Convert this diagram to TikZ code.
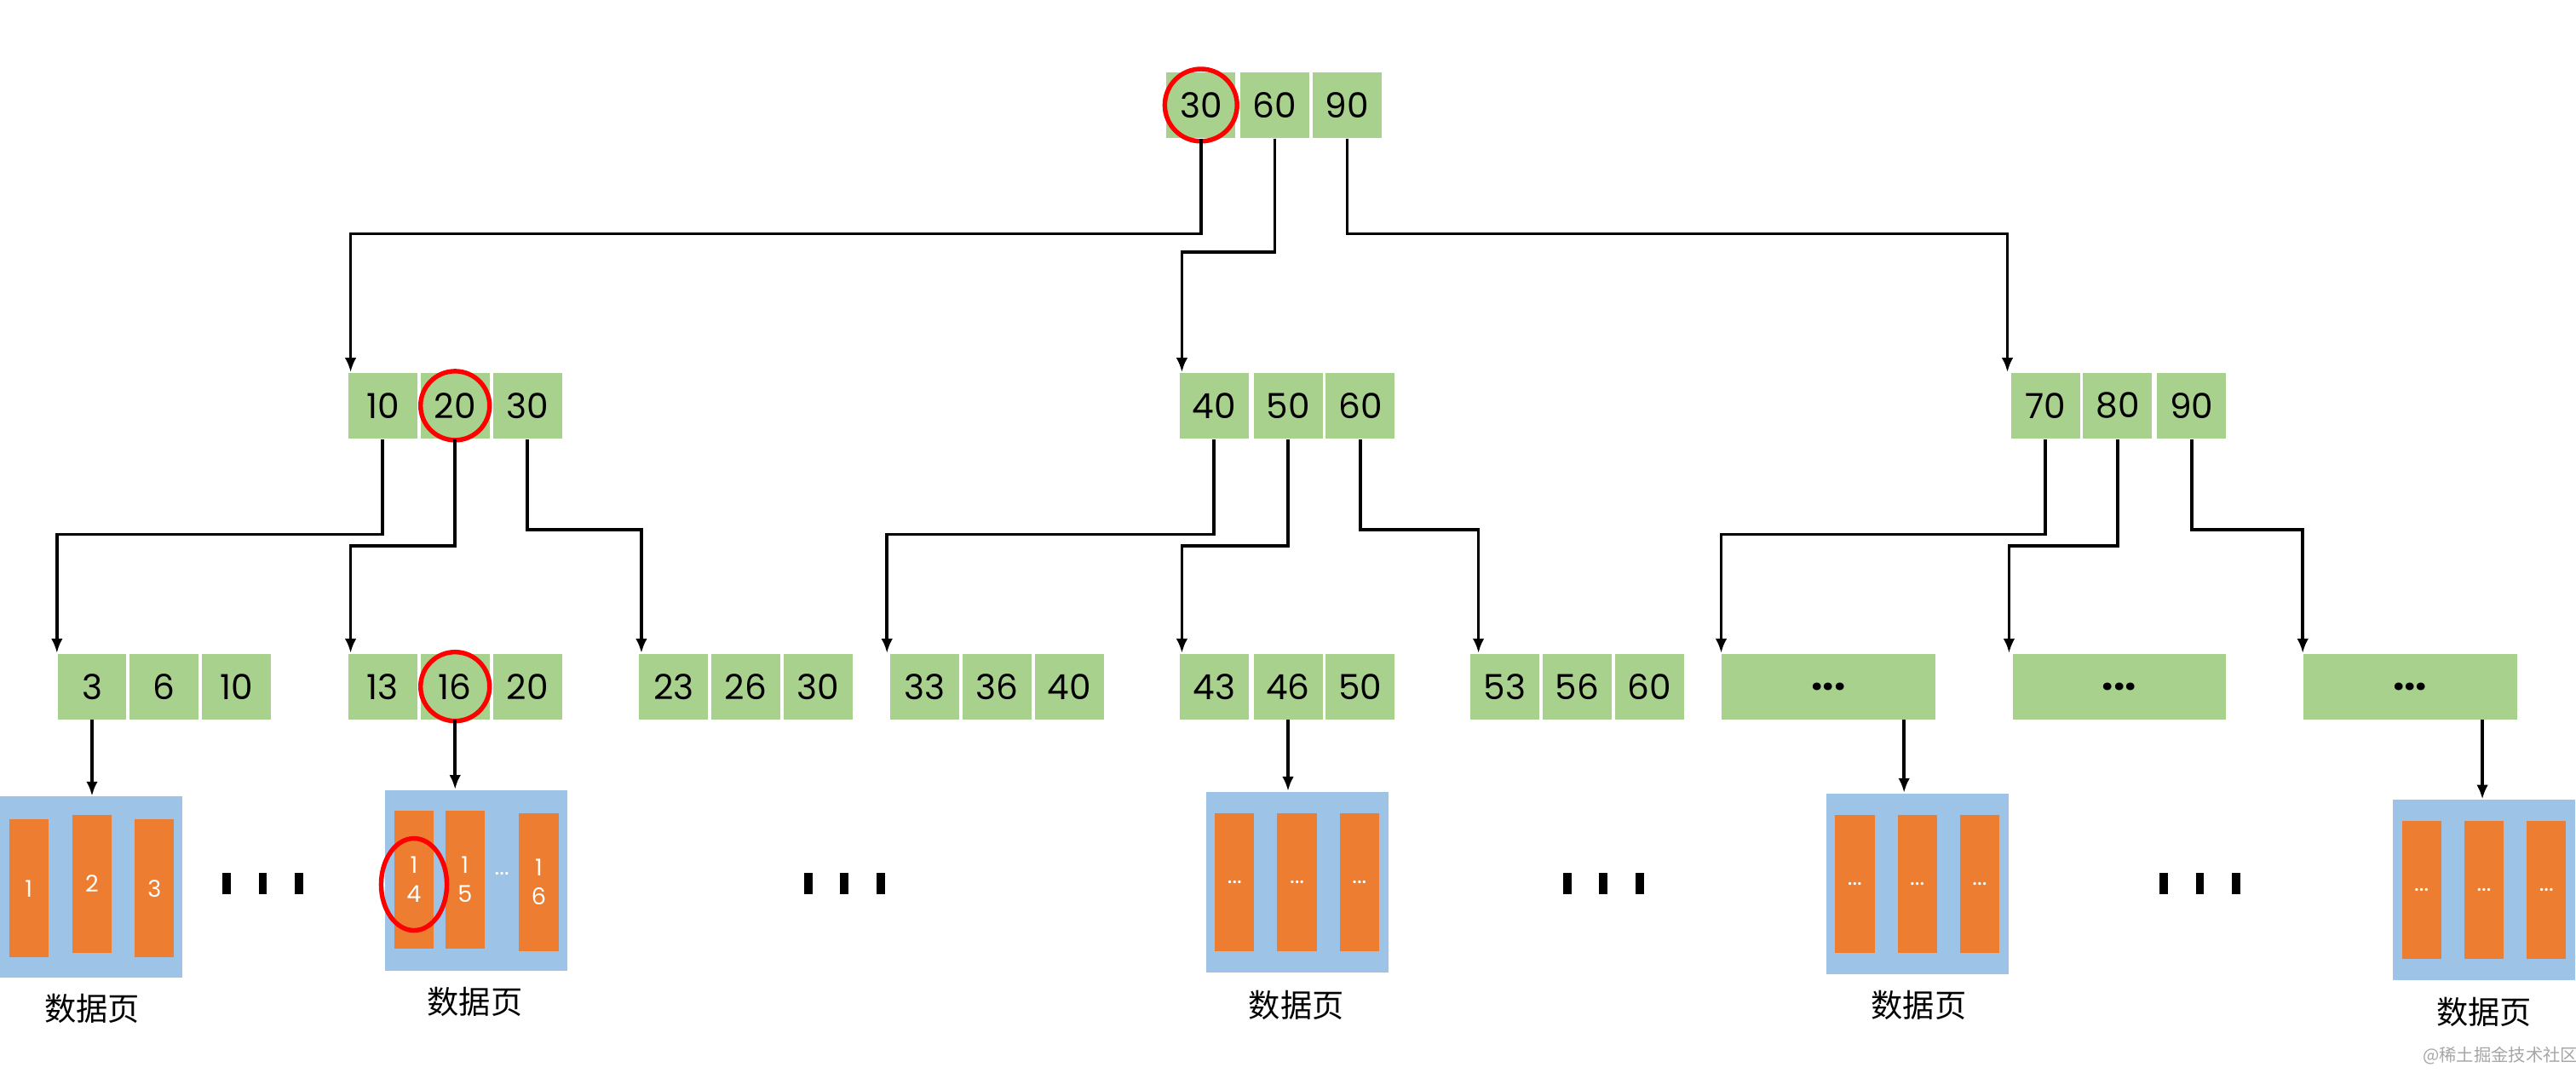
\documentclass[tikz,border=0pt]{standalone}
\usepackage{fontspec}
\usetikzlibrary{arrows.meta}
\setmainfont{Poppins}
\newfontfamily\cjk{Noto Sans CJK SC}
\definecolor{cg}{HTML}{A9D18E}
\definecolor{co}{HTML}{ED7D31}
\definecolor{cb}{HTML}{9DC3E6}
\begin{document}
\begin{tikzpicture}[x=0.02cm,y=-0.02cm,
 cell/.style={fill=cg,minimum width=0.84cm,minimum height=0.80cm,inner sep=0pt,font=\fontsize{12}{12}\selectfont},
 wide/.style={fill=cg,minimum width=2.6cm,minimum height=0.80cm,inner sep=0pt,font=\fontsize{14}{14}\selectfont\bfseries},
 arr/.style={draw=black,line width=1.1pt,-{Latex[length=5pt,width=4pt]}},
 page/.style={fill=cb,minimum width=2.22cm,minimum height=2.2cm,inner sep=0pt},
 bar/.style={fill=co,minimum width=0.48cm,minimum height=1.68cm,inner sep=0pt,text=white,font=\fontsize{8}{10}\selectfont,align=center},
 lbl/.style={font=\cjk\fontsize{11}{11}\selectfont},
 hl/.style={draw=red,line width=1.6pt},
 dot/.style={fill=black,minimum width=0.1cm,minimum height=0.26cm,inner sep=0pt}]
\useasboundingbox (0,0) rectangle (1568,653);
% root
\node[cell] (r1) at (731,64) {30};
\node[cell] (r2) at (776,64) {60};
\node[cell] (r3) at (820,64) {90};
% level 2
\foreach \n/\x/\t in {a1/233/10,a2/277/20,a3/321/30,b1/739/40,b2/784/50,b3/828/60,c1/1245/70,c2/1289/80,c3/1334/90}
  \node[cell] (\n) at (\x,247) {\t};
% level 3
\foreach \n/\x/\t in {d1/56/3,d2/100/6,d3/144/10,e1/233/13,e2/277/16,e3/321/20,f1/410/23,f2/454/26,f3/498/30,g1/563/33,g2/607/36,g3/651/40,h1/739/43,h2/784/46,h3/828/50,i1/916/53,i2/960/56,i3/1004/60}
  \node[cell] (\n) at (\x,418) {\t};
\node[wide] (j) at (1113,418) {...};
\node[wide] (k) at (1290,418) {...};
\node[wide] (m) at (1467,418) {...};
% highlights
\draw[hl] (r1.center) circle [radius=22];
\draw[hl] (a2.center) circle [radius=21];
\draw[hl] (e2.center) circle [radius=21];
% root arrows
\draw[arr] (r1.south) -- ++(0,58) -| ([xshift=1pt]a1.north west);
\draw[arr] (r2.south) -- ++(0,69) -| ([xshift=1pt]b1.north west);
\draw[arr] (r3.south) -- ++(0,58) -| ([xshift=-1pt]c1.north west);
% level 2 arrows
\draw[arr] (a1.south) -- ++(0,58) -| ([xshift=0pt]d1.north west);
\draw[arr] (a2.south) -- ++(0,65) -| ([xshift=1pt]e1.north west);
\draw[arr] (a3.south) -- ++(0,55) -| ([xshift=1pt]f1.north west);
\draw[arr] (b1.south) -- ++(0,58) -| ([xshift=-1pt]g1.north west);
\draw[arr] (b2.south) -- ++(0,65) -| ([xshift=1pt]h1.north west);
\draw[arr] (b3.south) -- ++(0,55) -| ([xshift=3pt]i1.north west);
\draw[arr] (c1.south) -- ++(0,58) -| (j.north west);
\draw[arr] (c2.south) -- ++(0,65) -| ([xshift=-1pt]k.north west);
\draw[arr] (c3.south) -- ++(0,55) -| (m.north west);
% data pages
\node[page] (p1) at (55.5,540) {};
\node[bar] (p1a) at (17.5,541) {1};
\node[bar] (p1b) at (56,538) {2};
\node[bar] (p1c) at (94,541) {3};
\node[page] (p2) at (290,536) {};
\node[bar] (p2a) at (252,535.5) {1\\4};
\node[bar] (p2b) at (283,535.5) {1\\5};
\node[bar] (p2c) at (328,537) {1\\6};
\node[text=white,font=\fontsize{8}{8}\selectfont] at (305.5,532) {...};
\draw[hl] (p2a.center)++(0,3) ellipse [x radius=20, y radius=28];
\node[page] (p3) at (789.5,537) {};
\node[page] (p4) at (1167,538) {};
\node[page] (p5) at (1512,542) {};
\foreach \p in {p3,p4,p5}{
  \node[bar] at ([xshift=-0.76cm]\p.center) {...};
  \node[bar] at (\p.center) {...};
  \node[bar] at ([xshift=0.76cm]\p.center) {...};
}
\draw[arr] (d1.south) -- (d1.south |- p1.north);
\draw[arr] (e2.south) -- (e2.south |- p2.north);
\draw[arr] (h2.south) -- (h2.south |- p3.north);
\draw[arr] ([xshift=0.92cm]j.south) -- ([xshift=0.92cm]j.south |- p4.north);
\draw[arr] ([xshift=0.88cm]m.south) -- ([xshift=0.88cm]m.south |- p5.north);
% labels
\node[lbl] (t1) at (56,614) {数据页};
\node[lbl] (t2) at (289,610) {数据页};
\node[lbl] (t3) at (789,612) {数据页};
\node[lbl] (t4) at (1168,612) {数据页};
\node[lbl] (t5) at (1512,616) {数据页};
\node[font=\cjk\fontsize{6}{6}\selectfont,text=gray!70] (wm) at (1522,643) {@稀土掘金技术社区};
% ellipsis dots
\foreach \x [count=\i] in {160,514,976,1339}{
  \node[dot] (q\i a) at (\x-22,538) {};
  \node[dot] (q\i b) at (\x,538) {};
  \node[dot] (q\i c) at (\x+22,538) {};
}
\end{tikzpicture}
\end{document}
